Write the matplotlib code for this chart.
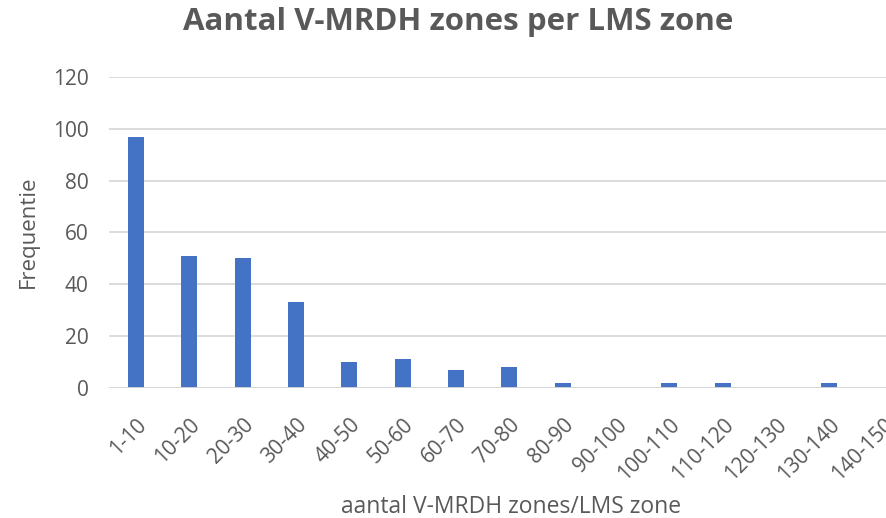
import matplotlib.pyplot as plt

plt.rcParams['font.family'] = ['Open Sans', 'DejaVu Sans']

categories = ["1-10", "10-20", "20-30", "30-40", "40-50", "50-60", "60-70", "70-80",
              "80-90", "90-100", "100-110", "110-120", "120-130", "130-140", "140-150"]
counts = [97, 51, 50, 33, 10, 11, 7, 8, 2, 0, 2, 2, 0, 2, 0]

grey = "#595959"
fig = plt.figure(figsize=(8.87, 5.18), dpi=100)
ax = fig.add_axes([0.1233, 0.251, 0.902, 0.6004])

x = range(len(categories))
ax.bar(x, counts, width=0.3, color="#4472C4", zorder=3)

ax.set_xlim(-0.5, len(categories) - 0.5)
ax.set_ylim(0, 120)
ax.set_yticks(range(0, 121, 20))
ax.yaxis.grid(True, color="#d9d9d9", linewidth=1.3, zorder=0)
for s in ax.spines.values():
    s.set_visible(False)
ax.axhline(0, color="#d9d9d9", linewidth=1.3, zorder=4)

ax.set_xticks(list(x))
ax.set_xticklabels(categories, rotation=45, ha="right", rotation_mode="anchor")
ax.tick_params(axis="both", length=0, labelsize=15, labelcolor=grey)
ax.tick_params(axis="x", pad=19)
ax.tick_params(axis="y", pad=15)

# axis titles and chart title placed in figure coordinates
fig.text(0.0316, 0.552, "Frequentie", fontsize=16, color=grey, rotation=90,
         ha="center", va="center")
fig.text(0.576, 0.021, "aantal V-MRDH zones/LMS zone", fontsize=16.5, color=grey,
         ha="center", va="center")
fig.text(0.516, 0.9575, "Aantal V-MRDH zones per LMS zone", fontsize=22.5, fontweight="bold",
         color=grey, ha="center", va="center")

fig.savefig("out.png", dpi=100)
